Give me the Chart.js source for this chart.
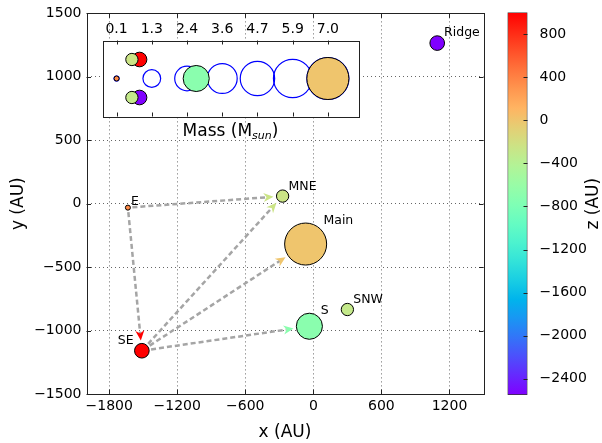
<!DOCTYPE html>
<html>
<head>
<meta charset="utf-8">
<script src="https://cdn.jsdelivr.net/npm/chart.js@4/dist/chart.umd.min.js"></script>
<style>
body { margin: 0; background: #fff; }
#wrap { position: relative; width: 602px; height: 443px; }
#wrap canvas { position: absolute; left: 0; top: 0; }
</style>
</head>
<body>
<div id="wrap">
<canvas id="chart" width="602" height="443"></canvas>
<canvas id="cbar" width="602" height="443"></canvas>
<canvas id="inset" width="602" height="443"></canvas>
</div>
<script>
// objects
const names  = ['E', 'MNE', 'Main', 'S', 'SNW', 'SE', 'Ridge'];
const xs     = [-1635, -271, -68, -35, 300, -1512, 1092];
const ys     = [-31, 60, -318, -966, -834, -1159, 1266];
const zs     = [350, -250, 0, -700, -300, 1000, -2550];
const masses = [0.1, 0.6, 7.0, 2.7, 0.6, 0.85, 0.85];
const labelSides = ['right', 'right', 'right', 'right', 'right', 'left', 'right'];
const legendRows = [0, 1, 0, 0, -1, 1, -1];

// arrows (from -> to)
const arrowFrom = ['E', 'E', 'SE', 'SE', 'SE'];
const arrowTo   = ['MNE', 'SE', 'MNE', 'Main', 'S'];

// ticks
const xTicks = [-1800, -1200, -600, 0, 600, 1200];
const yTicks = [1500, 1000, 500, 0, -500, -1000, -1500];
const zTicks = [800, 400, 0, -400, -800, -1200, -1600, -2000, -2400];
const massTicks = [0.1, 1.25, 2.4, 3.55, 4.7, 5.85, 7.0];
const massTickLabels = ['0.1', '1.3', '2.4', '3.6', '4.7', '5.9', '7.0'];
const zMin = -2550, zMax = 1000;

Chart.defaults.font.family = '"DejaVu Sans", sans-serif';
Chart.defaults.color = '#000';

function rainbow(t) {
    t = Math.min(1, Math.max(0, t));
    let r = Math.min(1, Math.abs(2 * t - 0.5));
    let g = Math.sin(Math.PI * t);
    let b = Math.cos(Math.PI * t / 2);
    return 'rgb(' + Math.round(r * 255) + ',' + Math.round(g * 255) + ',' + Math.round(b * 255) + ')';
}
const zColor = z => rainbow((z - zMin) / (zMax - zMin));
const radiusOf = m => 7.94 * Math.sqrt(m);
const minus = v => String(v).replace('-', '\u2212');

const tickFont = { size: 14 };
const titleFont = { size: 17 };

// box around axes + inward tick marks
function framePlugin(xt, yt, len) {
    return {
        id: 'frame',
        afterDraw(chart) {
            let { ctx, chartArea: a, scales } = chart;
            ctx.save();
            ctx.strokeStyle = '#222';
            ctx.lineWidth = 1;
            ctx.beginPath();
            xt.forEach(v => {
                let p = Math.round(scales.x.getPixelForValue(v)) + 0.5;
                ctx.moveTo(p, a.top); ctx.lineTo(p, a.top + len);
                ctx.moveTo(p, a.bottom); ctx.lineTo(p, a.bottom - len);
            });
            yt.forEach(v => {
                let p = Math.round(scales.y.getPixelForValue(v)) + 0.5;
                ctx.moveTo(a.left, p); ctx.lineTo(a.left + len, p);
                ctx.moveTo(a.right, p); ctx.lineTo(a.right - len, p);
            });
            ctx.stroke();
            ctx.strokeRect(Math.round(a.left) + 0.5, Math.round(a.top) + 0.5,
                Math.round(a.right - a.left), Math.round(a.bottom - a.top));
            ctx.restore();
        }
    };
}

const arrowPlugin = {
    id: 'arrows',
    beforeDatasetsDraw(chart) {
        let { ctx, scales: { x, y } } = chart;
        arrowFrom.forEach((from, k) => {
            let i = names.indexOf(from), j = names.indexOf(arrowTo[k]);
            let x0 = x.getPixelForValue(xs[i]), y0 = y.getPixelForValue(ys[i]);
            let x1 = x.getPixelForValue(xs[j]), y1 = y.getPixelForValue(ys[j]);
            let len = Math.hypot(x1 - x0, y1 - y0);
            let ux = (x1 - x0) / len, uy = (y1 - y0) / len;
            let sx = x0 + ux * (radiusOf(masses[i]) + 2), sy = y0 + uy * (radiusOf(masses[i]) + 2);
            let ex = x1 - ux * (radiusOf(masses[j]) + 3), ey = y1 - uy * (radiusOf(masses[j]) + 3);
            let hl = 10, hw = 4.5;
            ctx.save();
            ctx.strokeStyle = 'rgba(165,165,165,1)';
            ctx.lineWidth = 2.5;
            ctx.setLineDash([5, 3]);
            ctx.beginPath();
            ctx.moveTo(sx, sy);
            ctx.lineTo(ex - ux * hl * 0.7, ey - uy * hl * 0.7);
            ctx.stroke();
            ctx.setLineDash([]);
            let bx = ex - ux * hl, by = ey - uy * hl;
            ctx.fillStyle = zColor(zs[j]);
            ctx.beginPath();
            ctx.moveTo(ex, ey);
            ctx.lineTo(bx - uy * hw, by + ux * hw);
            ctx.lineTo(ex - ux * hl * 0.7, ey - uy * hl * 0.7);
            ctx.lineTo(bx + uy * hw, by - ux * hw);
            ctx.closePath();
            ctx.fill();
            ctx.restore();
        });
    }
};

const labelPlugin = {
    id: 'labels',
    afterDatasetsDraw(chart) {
        let { ctx, scales: { x, y } } = chart;
        ctx.save();
        ctx.font = '12.5px "DejaVu Sans"';
        ctx.fillStyle = '#000';
        ctx.textBaseline = 'middle';
        names.forEach((n, i) => {
            let r = radiusOf(masses[i]);
            let px = x.getPixelForValue(xs[i]), py = y.getPixelForValue(ys[i]);
            if (labelSides[i] === 'left') {
                ctx.textAlign = 'right';
                ctx.fillText(n, px - r - 1, py - r - 3);
            } else {
                ctx.textAlign = 'left';
                ctx.fillText(n, px + 0.8 * r + 1, py - 0.9 * r - 4);
            }
        });
        ctx.restore();
    }
};

// main scatter
new Chart(document.getElementById('chart'), {
    type: 'bubble',
    data: {
        datasets: [{
            data: names.map((n, i) => ({ x: xs[i], y: ys[i], r: radiusOf(masses[i]) })),
            backgroundColor: zs.map(zColor),
            borderColor: '#000',
            borderWidth: 1
        }]
    },
    options: {
        responsive: false, animation: false, events: [], devicePixelRatio: 1,
        layout: { autoPadding: false, padding: { left: 0, top: 10, right: 118.5, bottom: 0 } },
        plugins: { legend: { display: false }, tooltip: { enabled: false } },
        scales: {
            x: {
                type: 'linear', min: -2000, max: 1500,
                afterBuildTicks: s => { s.ticks = xTicks.map(v => ({ value: v })); },
                afterFit: s => { s.height = 49; },
                ticks: { font: tickFont, padding: 4, maxRotation: 0, callback: minus },
                grid: { color: 'rgba(0,0,0,0.6)', drawTicks: false },
                border: { display: false, dash: [1, 3] },
                title: { display: true, text: 'x (AU)', font: titleFont, padding: { top: 0, bottom: 0 } }
            },
            y: {
                type: 'linear', min: -1500, max: 1500,
                afterBuildTicks: s => { s.ticks = yTicks.map(v => ({ value: v })); },
                afterFit: s => { s.width = 86.5; },
                ticks: { font: tickFont, padding: 5, callback: minus },
                grid: { color: 'rgba(0,0,0,0.6)', drawTicks: false },
                border: { display: false, dash: [1, 3] },
                title: { display: true, text: 'y (AU)', font: titleFont, padding: { top: 8, bottom: 0 } }
            }
        }
    },
    plugins: [arrowPlugin, labelPlugin, framePlugin(xTicks, yTicks, 4.5)]
});

// colour bar
new Chart(document.getElementById('cbar'), {
    type: 'bar',
    data: {
        labels: [''],
        datasets: [{
            data: [[zMin, zMax]],
            backgroundColor: c => {
                let a = c.chart.chartArea;
                if (!a) return 'gray';
                let g = c.chart.ctx.createLinearGradient(0, a.bottom, 0, a.top);
                for (let k = 0; k <= 20; k++) g.addColorStop(k / 20, rainbow(k / 20));
                return g;
            },
            borderColor: '#333',
            borderWidth: 1,
            borderSkipped: false,
            barPercentage: 1,
            categoryPercentage: 1
        }]
    },
    options: {
        responsive: false, animation: false, events: [], devicePixelRatio: 1,
        layout: { autoPadding: false, padding: { left: 507.5, top: 12, right: 0, bottom: 48 } },
        plugins: { legend: { display: false }, tooltip: { enabled: false } },
        scales: {
            x: { display: false },
            y: {
                position: 'right', min: zMin, max: zMax,
                afterBuildTicks: s => { s.ticks = zTicks.map(v => ({ value: v })); },
                afterFit: s => { s.width = 602 - 527.5; },
                ticks: { font: tickFont, padding: 4, callback: minus },
                grid: { display: false },
                border: { display: false }
            }
        }
    },
    plugins: [{
        id: 'cbarExtras',
        afterDraw(chart) {
            let { ctx, chartArea: a, scales: { y } } = chart;
            ctx.save();
            ctx.strokeStyle = '#222';
            ctx.lineWidth = 1;
            ctx.beginPath();
            zTicks.forEach(v => {
                let p = Math.round(y.getPixelForValue(v)) + 0.5;
                ctx.moveTo(a.right, p); ctx.lineTo(a.right - 4, p);
            });
            ctx.stroke();
            ctx.translate(594, (a.top + a.bottom) / 2);
            ctx.rotate(-Math.PI / 2);
            ctx.font = '17px "DejaVu Sans"';
            ctx.fillStyle = '#000';
            ctx.textAlign = 'center';
            ctx.textBaseline = 'middle';
            ctx.fillText('z (AU)', 0, 0);
            ctx.restore();
        }
    }]
});

// mass legend inset
let order = names.map((n, i) => i).sort((a, b) => masses[b] - masses[a]);
new Chart(document.getElementById('inset'), {
    type: 'bubble',
    data: {
        datasets: [{
            data: order.map(i => ({ x: masses[i], y: legendRows[i], r: radiusOf(masses[i]) })),
            backgroundColor: order.map(i => zColor(zs[i])),
            borderColor: '#000',
            borderWidth: 1
        }, {
            data: massTicks.map(m => ({ x: m, y: 0, r: radiusOf(m) })),
            backgroundColor: 'rgba(0,0,0,0)',
            borderColor: '#0000ff',
            borderWidth: 1.2
        }]
    },
    options: {
        responsive: false, animation: false, events: [], devicePixelRatio: 1,
        layout: { autoPadding: false, padding: { left: 102.5, top: 0, right: 243.5, bottom: 326.5 } },
        plugins: { legend: { display: false }, tooltip: { enabled: false } },
        scales: {
            x: {
                type: 'linear', position: 'top', min: -0.36, max: 8.0,
                afterBuildTicks: s => { s.ticks = massTicks.map(v => ({ value: v })); },
                afterFit: s => { s.height = 40.5; },
                ticks: { font: tickFont, padding: -5, maxRotation: 0, callback: (v, i) => massTickLabels[i] },
                grid: { display: false },
                border: { display: false }
            },
            y: { display: false, min: -2, max: 2 }
        }
    },
    plugins: [{
        id: 'insetBg',
        beforeDatasetsDraw(chart) {
            let a = chart.chartArea;
            chart.ctx.save();
            chart.ctx.fillStyle = '#fff';
            chart.ctx.fillRect(a.left, a.top, a.right - a.left, a.bottom - a.top);
            chart.ctx.restore();
        },
        afterDraw(chart) {
            let { ctx, chartArea: a } = chart;
            let cx = (a.left + a.right) / 2, cy = a.bottom + 13.5;
            ctx.save();
            ctx.fillStyle = '#000';
            ctx.textBaseline = 'alphabetic';
            let f1 = '17px "DejaVu Sans"', f2 = 'italic 11px "DejaVu Sans"';
            ctx.font = f1;
            let w1 = ctx.measureText('Mass (M').width, w3 = ctx.measureText(')').width;
            ctx.font = f2;
            let w2 = ctx.measureText('sun').width;
            let x0 = cx - (w1 + w2 + w3) / 2, base = cy + 6;
            ctx.font = f1;
            ctx.fillText('Mass (M', x0, base);
            ctx.font = f2;
            ctx.fillText('sun', x0 + w1, base + 3);
            ctx.font = f1;
            ctx.fillText(')', x0 + w1 + w2, base);
            ctx.restore();
        }
    }, framePlugin(massTicks, [], 4)]
});
</script>
</body>
</html>
